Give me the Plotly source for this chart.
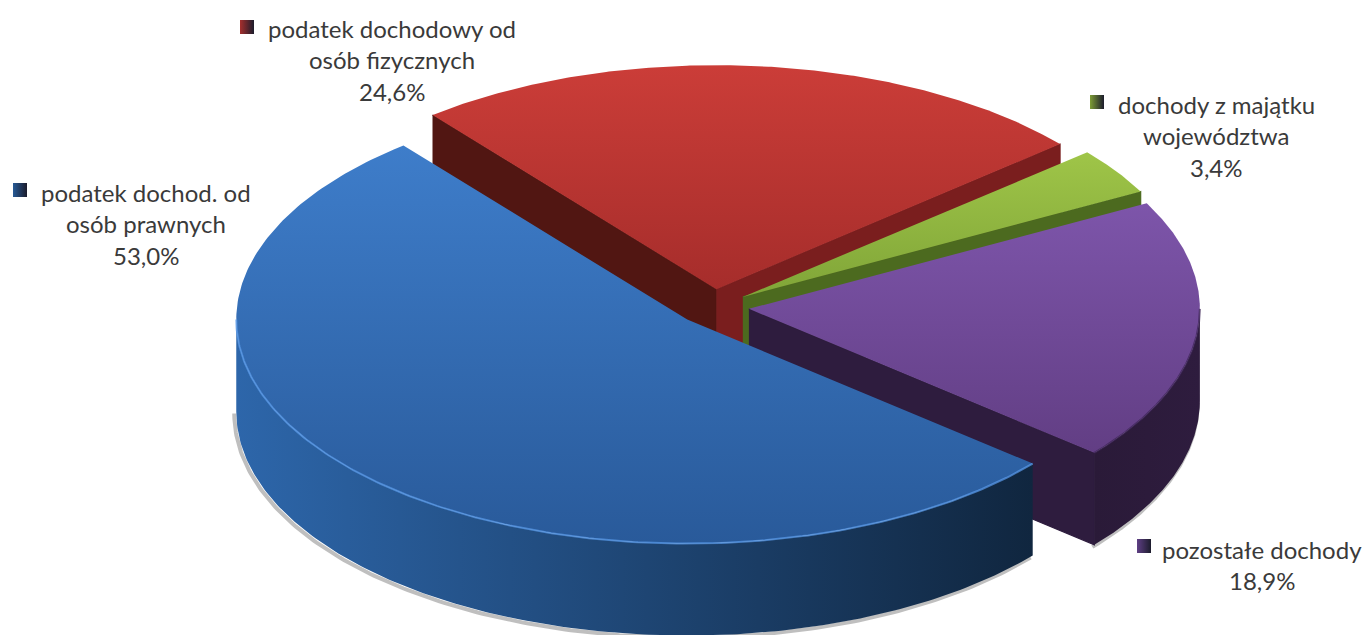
import numpy as np
import plotly.graph_objects as go

# ---- data (clockwise order, beginning at the top-left cut) ----
categories = ["podatek dochodowy od\nosób fizycznych", "dochody z majątku\nwojewództwa",
              "pozostałe dochody", "podatek dochod. od\nosób prawnych"]
values = [24.6, 3.4, 18.9, 53.0]

# ---- styles ----
top_colors = [("#cb3d38", "#a62d2b"), ("#9fc548", "#80a538"), ("#7d55aa", "#623e84"), ("#3e7dca", "#295a9a")]
rim_colors = [("#7a1e1e", "#7a1e1e"), ("#4c6a1f", "#4c6a1f"), ("#2a1a38", "#2e1c3e"), ("#2d66aa", "#10263f")]
cut_colors = [("#511612", "#7a1e1e"), (None, "#4c6a1f"), (None, "#2e1c3e"), (None, None)]
highlight = [None, None, "rgba(60,35,85,0.7)", "rgba(90,155,235,0.7)"]
key_colors = ["#a52f2d", "#7d9c35", "#5f3f85", "#275a96"]
text_color = "#3a3a3a"
font = "Lato"

# ---- layout (pixel-like axes, projection of the pie disc) ----
W, H = 1366, 635
CX, CY = 713, 307
RX, RY = 451, 224
PULL = 0.08
DEPTH = 92
START = 129
label_pos = [(391.5, 28), (1216, 104), (1262, 549), (145.5, 192)]
key_pos = [(247, 27), (1097, 102), (1144, 546), (20, 190)]
LINE = 31.8


def disc(cx, cy, deg):
    a = np.radians(deg)
    return cx + RX * np.cos(a), cy - RY * np.sin(a)


fig = go.Figure()


def poly(x, y, c0, c1, kind="vertical", name="", edge=None):
    x, y = np.asarray(x), np.asarray(y)
    lo, hi = (x.min(), x.max()) if kind == "horizontal" else (y.min(), y.max())
    line = dict(width=1.2, color=edge) if edge else dict(width=0)
    fig.add_trace(go.Scatter(x=x, y=y, mode="lines", fill="toself", line=line, name=name,
                             fillgradient=dict(type=kind, start=lo, stop=hi,
                                               colorscale=[[0, c0], [1, c1]]),
                             hoverinfo="name", showlegend=False))


total = sum(values)
spans = []
a = START
for v in values:
    spans.append((a, a - 360 * v / total))
    a = spans[-1][1]

centers = []
for (a0, a1) in spans:
    mid = np.radians((a0 + a1) / 2)
    centers.append((CX + PULL * RX * np.cos(mid), CY - PULL * RY * np.sin(mid)))


def front_arc(a0, a1):
    """Part of the slice's arc that faces the viewer (angles between 0 and -180)."""
    upper, lower = min(a0, 0), max(a1, -180)
    return np.linspace(upper, lower, 200) if upper > lower else None


# soft shadow under the visible rims
for i in (2, 3):
    t = front_arc(*spans[i])
    sx, sy = disc(*centers[i], t)
    fig.add_trace(go.Scatter(x=sx - 2, y=sy + DEPTH + 2, mode="lines", hoverinfo="skip", showlegend=False,
                             line=dict(color="rgba(0,0,0,0.25)", width=4)))

for i in range(len(values)):
    cx, cy = centers[i]
    a0, a1 = spans[i]
    name = categories[i].replace("\n", " ")
    # straight cut walls
    ex0, ey0 = disc(cx, cy, a0)
    ex1, ey1 = disc(cx, cy, a1)
    if cut_colors[i][0]:
        poly([ex0, cx, cx, ex0], [ey0, cy, cy + DEPTH, ey0 + DEPTH], cut_colors[i][0], cut_colors[i][0],
             name=name, edge=cut_colors[i][0])
    if cut_colors[i][1]:
        poly([cx, ex1, ex1, cx], [cy, ey1, ey1 + DEPTH, cy + DEPTH], cut_colors[i][1], cut_colors[i][1],
             name=name, edge=cut_colors[i][1])
    # outer rim
    t = front_arc(a0, a1)
    if t is not None:
        rx, ry = disc(cx, cy, t)
        poly(np.r_[rx, rx[::-1]], np.r_[ry, ry[::-1] + DEPTH], rim_colors[i][0], rim_colors[i][1],
             "horizontal", name=name)
    # top face
    u = np.linspace(a0, a1, 240)
    tx, ty = disc(cx, cy, u)
    poly(np.r_[cx, tx, cx], np.r_[cy, ty, cy], top_colors[i][0], top_colors[i][1], name=name)
    if highlight[i] and t is not None:
        hx, hy = disc(cx, cy, t)
        fig.add_trace(go.Scatter(x=hx, y=hy, mode="lines", hoverinfo="skip", showlegend=False,
                                 line=dict(color=highlight[i], width=2)))

# labels and keys
annotations = []
for i, cat in enumerate(categories):
    lines = cat.split("\n") + [f"{values[i]:.1f}%".replace(".", ",")]
    x0, y0 = label_pos[i]
    for k, line in enumerate(lines):
        annotations.append(dict(x=x0, y=y0 + k * LINE, xref="x", yref="y", text=line, showarrow=False,
                                xanchor="center", yanchor="middle",
                                font=dict(family=font, size=24, color=text_color)))
    fig.add_trace(go.Scatter(x=[key_pos[i][0]], y=[key_pos[i][1]], mode="markers", showlegend=False,
                             hoverinfo="skip",
                             marker=dict(symbol="square", size=14, color=key_colors[i], line=dict(width=0),
                                         gradient=dict(type="horizontal", color="#1c1c2c"))))

fig.update_layout(
    width=W, height=H, margin=dict(l=0, r=0, t=0, b=0), paper_bgcolor="white", plot_bgcolor="white",
    showlegend=False, annotations=annotations, hovermode="closest",
    xaxis=dict(range=[0, W], visible=False, fixedrange=True),
    yaxis=dict(range=[H, 0], visible=False, fixedrange=True),
)
fig.write_html("out.html", config={"displayModeBar": False},
               post_script="document.body.style.margin='0';document.body.style.overflow='hidden';")
